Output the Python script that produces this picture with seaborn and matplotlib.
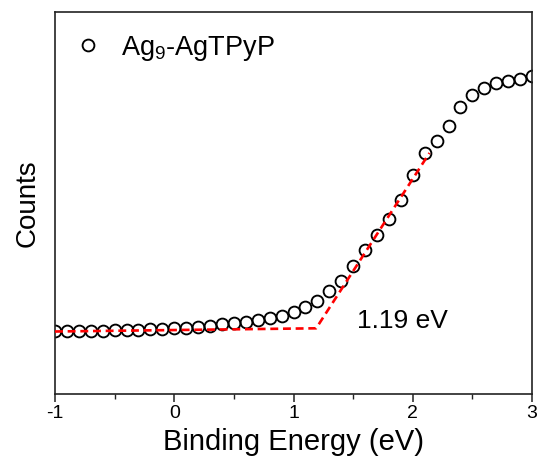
import matplotlib
matplotlib.use("Agg")
import matplotlib.pyplot as plt
import seaborn as sns
import pandas as pd
from matplotlib.ticker import MultipleLocator

# ---- data ----
energy = [-1.0, -0.9, -0.8, -0.7, -0.6, -0.5, -0.4, -0.3, -0.2, -0.1,
          0.0, 0.1, 0.2, 0.3, 0.4, 0.5, 0.6, 0.7, 0.8, 0.9,
          1.0, 1.1, 1.2, 1.3, 1.4, 1.5, 1.6, 1.7, 1.8, 1.9,
          2.0, 2.1, 2.2, 2.3, 2.4, 2.5, 2.6, 2.7, 2.8, 2.9, 3.0]
counts = [63, 63, 63, 63.5, 63.5, 64, 64, 64.5, 65, 65.5,
          66, 66.5, 67.5, 68.5, 70, 70.7, 71.7, 73.7, 75.7, 78.3,
          82.3, 87.3, 93.3, 103.3, 113.5, 128, 144.3, 159, 175.5, 194,
          219, 241, 253, 268, 287, 299, 306, 311, 313.5, 315, 318]
fit_x = [-1.0, 1.19, 2.14]
fit_y = [62.5, 65.7, 241]
series_label = "Ag$_9$-AgTPyP"
onset_label = "1.19 eV"
x_ticks = [-1, 0, 1, 2, 3]

df = pd.DataFrame({"energy": energy, "counts": counts})
fit = pd.DataFrame({"x": fit_x, "y": fit_y})

sns.set_style("white")
plt.rcParams["font.family"] = ["Liberation Sans", "DejaVu Sans"]
plt.rcParams["mathtext.fontset"] = "custom"
plt.rcParams["mathtext.rm"] = "Liberation Sans"
plt.rcParams["mathtext.it"] = "Liberation Sans"
plt.rcParams["text.color"] = "black"
plt.rcParams["axes.labelcolor"] = "black"
plt.rcParams["xtick.color"] = "black"
plt.rcParams["ytick.color"] = "black"

fig = plt.figure(figsize=(5.38, 4.58), dpi=100)
ax = fig.add_axes([55 / 538, 1 - 394 / 458, 477 / 538, 382 / 458])

sns.lineplot(data=fit, x="x", y="y", ax=ax, color="#ff0000", lw=1.9,
             dashes=False, linestyle=(0, (3.0, 1.8)), zorder=3)
sns.lineplot(data=df, x="energy", y="counts", ax=ax, linestyle="none",
             marker="o", markersize=8.5, markerfacecolor="none",
             markeredgecolor="black", markeredgewidth=1.35, color="black",
             label=series_label, zorder=2)

ax.set_xlim(-1, 3)
ax.set_ylim(0, 382)
ax.set_xticks(x_ticks)
ax.set_xticklabels([str(t) for t in x_ticks])
ax.xaxis.set_minor_locator(MultipleLocator(0.5))
ax.set_yticks([])
ax.tick_params(axis="x", which="major", direction="out", length=6, width=1.1,
               labelsize=14, bottom=True, top=False, pad=2, color="#222222",
               labelcolor="black")
ax.tick_params(axis="x", which="minor", direction="out", length=3.5, width=1.0,
               bottom=True, top=False, color="#222222")
for s in ax.spines.values():
    s.set_color("#222222")
    s.set_linewidth(1.2)

ax.set_xlabel("Binding Energy (eV)", fontsize=21, labelpad=4, color="black")
ax.set_ylabel("Counts", fontsize=20, labelpad=10, color="black")

ax.text(1.53, 73, onset_label, fontsize=19, ha="left", va="center",
        color="black")

leg = ax.legend(loc="upper left", frameon=False, fontsize=19.5,
                handlelength=1.0, handletextpad=0.75, borderaxespad=0.3,
                bbox_to_anchor=(0.0, 0.993))
for t in leg.get_texts():
    t.set_color("black")

fig.savefig("out.png", dpi=100)
